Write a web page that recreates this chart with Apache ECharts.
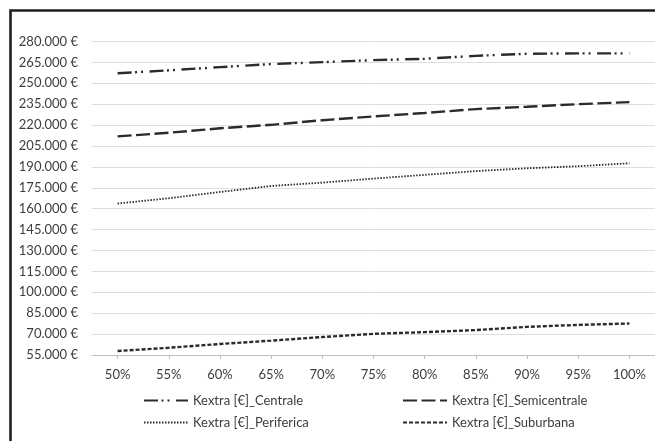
<!DOCTYPE html>
<html>
<head>
<meta charset="utf-8">
<script src="https://cdn.jsdelivr.net/npm/echarts@6/dist/echarts.min.js"></script>
<style>
  html, body { margin: 0; padding: 0; background: #fff; }
  #chart { width: 655px; height: 441px; }
</style>
</head>
<body>
<div id="chart"></div>
<script>
// Share of use (x) and extra cost per zone (€)
const categories = ['50%', '55%', '60%', '65%', '70%', '75%', '80%', '85%', '90%', '95%', '100%'];
const centrale     = [257200, 259300, 261600, 263800, 265200, 266600, 267600, 269700, 271200, 271500, 271500];
const semicentrale = [211900, 214500, 217700, 220200, 223500, 226200, 228700, 231500, 233200, 235000, 236500];
const periferica   = [163700, 167500, 172000, 176300, 178700, 181600, 184300, 187000, 189000, 190500, 192600];
const suburbana    = [57900, 60200, 62900, 65300, 67900, 70200, 71400, 72900, 75200, 76600, 77600];
const yMin = 55000, yMax = 280000, yStep = 15000;

const names = {
  centrale: 'Kextra [€]_Centrale',
  semicentrale: 'Kextra [€]_Semicentrale',
  periferica: 'Kextra [€]_Periferica',
  suburbana: 'Kextra [€]_Suburbana'
};

const FONT = 'Lato';
const TEXT = '#3d3d3d';
const LINE = '#2b2b2b';

function euro(v) {
  return String(v).replace(/\B(?=(\d{3})+(?!\d))/g, '.') + ' €';
}

function lineSeries(name, data, width, dash, cap) {
  return {
    name: name,
    type: 'line',
    data: data,
    symbol: 'none',
    showSymbol: false,
    smooth: false,
    animation: false,
    lineStyle: { color: LINE, width: width, type: dash, cap: cap || 'butt' },
    itemStyle: { color: LINE }
  };
}

const chart = echarts.init(document.getElementById('chart'), null, { renderer: 'canvas' });

// legend keys show only the dashed line, no marker
const legendBase = {
  orient: 'vertical',
  top: 389,
  itemWidth: 44,
  itemHeight: 14,
  itemGap: 9,
  itemStyle: { opacity: 0 },
  textStyle: { fontFamily: FONT, fontSize: 13, color: TEXT },
  selectedMode: false
};

chart.setOption({
  backgroundColor: '#ffffff',
  animation: false,
  graphic: [{
    type: 'rect',
    shape: { x: 10.5, y: 10.5, width: 800, height: 600 },
    style: { fill: 'none', stroke: '#1e1e1e', lineWidth: 2.6 },
    silent: true,
    z: 100
  }],
  grid: { left: 92, right: 0, top: 41.5, bottom: 86, containLabel: false },
  legend: [
    Object.assign({}, legendBase, { left: 138, data: [names.centrale, names.periferica] }),
    Object.assign({}, legendBase, { left: 397, data: [names.semicentrale, names.suburbana] })
  ],
  xAxis: {
    type: 'category',
    data: categories,
    boundaryGap: true,
    axisLine: { show: true, lineStyle: { color: '#bfbfbf', width: 1 } },
    axisTick: { show: true, alignWithLabel: true, length: 4, lineStyle: { color: '#bfbfbf' } },
    axisLabel: { fontFamily: FONT, fontSize: 13, color: TEXT, margin: 13 },
    splitLine: { show: false }
  },
  yAxis: {
    type: 'value',
    min: yMin,
    max: yMax,
    interval: yStep,
    axisLine: { show: false },
    axisTick: { show: false },
    axisLabel: { fontFamily: FONT, fontSize: 13, color: TEXT, margin: 14, formatter: euro },
    splitLine: { show: true, lineStyle: { color: '#dedede', width: 1 } }
  },
  series: [
    lineSeries(names.centrale, centrale, 2.4, [14, 3.5, 2, 4, 2, 6.5]),
    lineSeries(names.semicentrale, semicentrale, 2.4, [14, 4.5]),
    lineSeries(names.periferica, periferica, 1.8, [1.5, 1.5]),
    lineSeries(names.suburbana, suburbana, 2.4, [4, 2])
  ]
});
</script>
</body>
</html>
